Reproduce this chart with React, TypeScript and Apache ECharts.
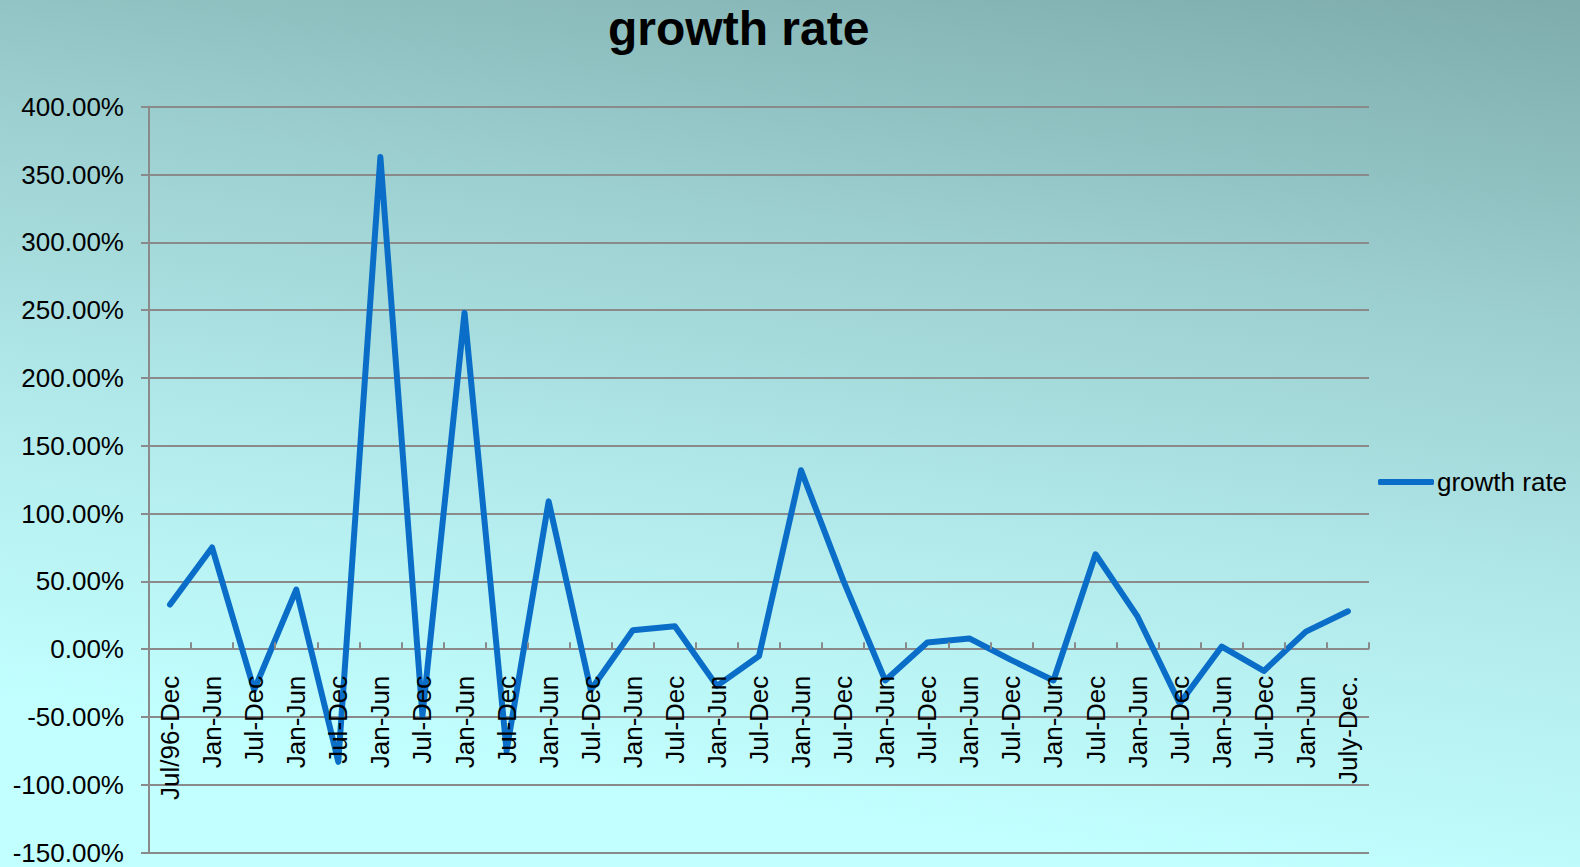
import React, { useEffect, useRef } from "react";
import * as echarts from "echarts";

const categories = [
  "Jul/96-Dec", "Jan-Jun", "Jul-Dec", "Jan-Jun", "Jul-Dec", "Jan-Jun", "Jul-Dec", "Jan-Jun",
  "Jul-Dec", "Jan-Jun", "Jul-Dec", "Jan-Jun", "Jul-Dec", "Jan-Jun", "Jul-Dec", "Jan-Jun",
  "Jul-Dec", "Jan-Jun", "Jul-Dec", "Jan-Jun", "Jul-Dec", "Jan-Jun", "Jul-Dec", "Jan-Jun",
  "Jul-Dec", "Jan-Jun", "Jul-Dec", "Jan-Jun", "July-Dec.",
];

// growth rate in percent
const growthRate = [
  33, 75, -30, 44, -83, 363, -49, 248,
  -75, 109, -30, 14, 17, -27, -5, 132,
  51, -23, 5, 8, -8, -23, 70, 24,
  -40, 2, -16, 13, 28,
];

const yMin = -150;
const yMax = 400;
const yStep = 50;

export default function App() {
  const ref = useRef<HTMLDivElement>(null);
  useEffect(() => {
    if (!ref.current) return;
    const chart = echarts.init(ref.current, null, { renderer: "svg" });
    const font = "Liberation Sans, Arial, sans-serif";
    chart.setOption({
      animation: false,
      title: {
        text: "growth rate",
        left: 603,
        top: -1,
        textStyle: { fontFamily: font, fontSize: 48, fontWeight: "bold", color: "#000" },
      },
      legend: {
        data: [{ name: "growth rate", icon: "roundRect" }],
        left: 1373,
        top: 464,
        orient: "vertical",
        itemWidth: 56,
        itemHeight: 6,
        itemStyle: { color: "#0a6ec8" },
        textStyle: { fontFamily: font, fontSize: 26, color: "#000", padding: [0, 0, 0, -2] },
      },
      grid: {
        left: 149,
        right: 211,
        top: 106.7,
        bottom: 14.3,
        containLabel: false,
        outerBoundsMode: "none",
      },
      xAxis: {
        type: "category",
        data: categories,
        boundaryGap: true,
        z: 3,
        axisLine: { show: true, onZero: true, lineStyle: { color: "rgba(0,0,0,0)", width: 0 } },
        axisTick: { show: true, inside: true, length: 7, alignWithLabel: false, lineStyle: { color: "#8a8a8a", width: 2 } },
        axisLabel: {
          interval: 0,
          rotate: 90,
          margin: -177,
          fontFamily: font,
          fontSize: 26,
          color: "#000",
        },
        splitLine: { show: false },
      },
      yAxis: {
        type: "value",
        min: yMin,
        max: yMax,
        interval: yStep,
        axisLine: { show: true, lineStyle: { color: "#8a8a8a", width: 2 } },
        axisTick: { show: true, length: 8, lineStyle: { color: "#8a8a8a", width: 2 } },
        axisLabel: {
          margin: 25,
          fontFamily: font,
          fontSize: 26,
          color: "#000",
          formatter: (v: number) => v.toFixed(2) + "%",
        },
        splitLine: { show: true, lineStyle: { color: "#8a8a8a", width: 2 } },
      },
      series: [
        {
          name: "growth rate",
          type: "line",
          data: growthRate,
          symbol: "none",
          z: 2,
          lineStyle: { color: "#0a6ec8", width: 6, cap: "round", join: "round" },
          itemStyle: { color: "#0a6ec8" },
        },
      ],
    });
    return () => chart.dispose();
  }, []);
  return (
    <div
      style={{
        position: "fixed",
        left: 0,
        top: 0,
        width: 1580,
        height: 867,
        background: "linear-gradient(188deg, #7eacac 0%, #9ccfd0 30%, #b4eced 60%, #c2ffff 85%, #c2ffff 100%)",
      }}
    >
      <div ref={ref} style={{ width: 1580, height: 867 }} />
    </div>
  );
}
